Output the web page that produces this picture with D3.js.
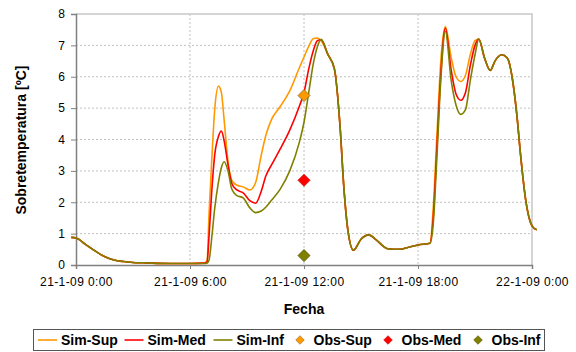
<!DOCTYPE html>
<html><head><meta charset="utf-8">
<script src="https://cdn.jsdelivr.net/npm/d3@7"></script>
<style>
body{margin:0;background:#fff;}
svg{display:block;font-family:"Liberation Sans",Arial,sans-serif;}
</style></head><body>
<svg id="c" width="576" height="352"></svg>
<script>
// ---- data (hours since 21-1-09 0:00) ----
const hours = [-0.25,0,0.5,1,1.5,2,2.5,3,3.5,4,5,6,6.75,6.9,7.0,7.15,7.3,7.5,7.65,7.8,8.0,8.2,8.45,8.8,9.15,9.45,9.75,10.0,10.3,10.75,11.25,11.75,12.0,12.25,12.5,12.7,12.9,13.25,13.6,13.9,14.1,14.3,14.6,15.0,15.4,15.8,16.4,17.0,17.6,18.0,18.63,18.8,19.0,19.2,19.44,19.75,20.0,20.25,20.5,20.75,21.0,21.2,21.5,21.8,22.05,22.4,22.7,22.95,23.2,23.4,23.65,23.85,24.0,24.25];
const simSup = [0.88,0.86,0.66,0.45,0.27,0.16,0.11,0.08,0.07,0.06,0.05,0.05,0.06,0.15,1.6,3.4,4.95,5.7,5.5,4.6,3.3,2.7,2.55,2.49,2.39,2.62,3.5,4.15,4.65,5.05,5.55,6.28,6.63,6.97,7.22,7.23,7.15,6.72,6.25,4.4,2.45,1.15,0.47,0.82,0.96,0.8,0.52,0.5,0.58,0.64,0.69,1.8,4.2,6.5,7.6,6.6,6.0,5.85,6.05,6.7,7.15,7.2,6.6,6.2,6.5,6.7,6.6,6.0,4.8,3.5,2.15,1.5,1.25,1.12];
const simMed = [0.88,0.86,0.66,0.45,0.27,0.16,0.11,0.08,0.07,0.06,0.05,0.05,0.06,0.1,0.9,2.4,3.5,4.1,4.27,3.95,3.2,2.6,2.4,2.3,2.05,1.97,2.35,2.85,3.2,3.7,4.3,5.05,5.5,6.25,6.85,7.15,7.18,6.72,6.25,4.4,2.45,1.15,0.47,0.82,0.96,0.8,0.52,0.5,0.58,0.64,0.69,1.5,3.8,6.1,7.55,6.2,5.45,5.25,5.5,6.35,7.0,7.2,6.6,6.2,6.5,6.7,6.6,6.0,4.8,3.5,2.15,1.5,1.25,1.12];
const simInf = [0.88,0.86,0.66,0.45,0.27,0.16,0.11,0.08,0.07,0.06,0.05,0.05,0.05,0.06,0.15,0.9,1.8,2.65,3.1,3.29,3.0,2.42,2.22,2.14,1.82,1.67,1.72,1.85,2.07,2.42,3.0,3.9,4.55,5.5,6.45,6.95,7.19,6.72,6.25,4.4,2.45,1.15,0.47,0.82,0.96,0.8,0.52,0.5,0.58,0.64,0.69,1.3,3.5,5.9,7.45,5.87,5.1,4.8,4.95,5.87,6.7,7.2,6.6,6.2,6.5,6.7,6.6,6.0,4.8,3.5,2.15,1.5,1.25,1.12];
const obsHour = [12, 12, 12];
const obsValue = [5.4, 2.7, 0.3];
const obsNames = ["Obs-Sup","Obs-Med","Obs-Inf"];
const simNames = ["Sim-Sup","Sim-Med","Sim-Inf"];
const xTickHours = [0,6,12,18,24];
const xTickLabels = ["21-1-09 0:00","21-1-09 6:00","21-1-09 12:00","21-1-09 18:00","22-1-09 0:00"];
const yTicks = [0,1,2,3,4,5,6,7,8];
const colors = ["#FF9900","#FF0000","#808000"];
const obsStroke = ["#8a6a2a","#cc0000","#4d4d00"];

// ---- layout ----
const svg = d3.select("#c");
const L = 76, R = 532, T = 14, B = 265;
const x = d3.scaleLinear().domain([0,24]).range([L,R]);
const y = d3.scaleLinear().domain([0,8]).range([B,T]);

// grid
const g = svg.append("g");
g.selectAll("line.h").data(yTicks.filter(v=>v>0&&v<8)).enter().append("line")
 .attr("x1",L).attr("x2",R).attr("y1",d=>y(d)).attr("y2",d=>y(d))
 .attr("stroke","#c0c0c0").attr("stroke-dasharray","2,2").attr("stroke-width",1);
g.selectAll("line.v").data(xTickHours.filter(h=>h>0&&h<24)).enter().append("line")
 .attr("x1",d=>x(d)).attr("x2",d=>x(d)).attr("y1",T).attr("y2",B)
 .attr("stroke","#c0c0c0").attr("stroke-dasharray","2,2").attr("stroke-width",1);
// plot border (top/right)
svg.append("path").attr("d",`M${L},${T}H${R}V${B}`).attr("fill","none")
 .attr("stroke","#c8c8c8").attr("stroke-width",1.5);

// axes
const yAxis = d3.axisLeft(y).tickValues(yTicks).tickSize(5).tickPadding(6);
const ya = svg.append("g").attr("transform",`translate(${L},0)`).call(yAxis);
const xAxis = d3.axisBottom(x).tickValues(xTickHours).tickSize(4).tickPadding(8)
  .tickFormat((d,i)=>xTickLabels[i]);
const xa = svg.append("g").attr("transform",`translate(0,${B})`).call(xAxis);
[ya,xa].forEach(a=>{
  a.select(".domain").attr("stroke","#808080").attr("stroke-width",1.5);
  a.selectAll(".tick line").attr("stroke","#808080");
  a.selectAll("text").attr("font-size",12).attr("fill","#000")
   .attr("font-family","Liberation Sans, Arial, sans-serif");
});
xa.selectAll("text").attr("letter-spacing","0.4px");

// lines
const line = d3.line().x((d,i)=>x(hours[i])).y(d=>y(d)).curve(d3.curveMonotoneX);
[simSup,simMed,simInf].forEach((s,i)=>{
  svg.append("path").datum(s).attr("d",line).attr("fill","none")
   .attr("stroke",colors[i]).attr("stroke-width",1.6).attr("stroke-linejoin","round");
});

// observations
const diamond = r => `M0,${-r}L${r},0L0,${r}L${-r},0Z`;
svg.selectAll("path.obs").data(obsValue).enter().append("path")
 .attr("d",diamond(6))
 .attr("transform",(d,i)=>`translate(${x(obsHour[i])},${y(d)})`)
 .attr("fill",(d,i)=>colors[i]).attr("stroke",(d,i)=>obsStroke[i]).attr("stroke-width",0.8);

// axis titles
svg.append("text").attr("x",304).attr("y",309).attr("text-anchor","middle")
 .attr("dominant-baseline","central").attr("font-size",14).attr("font-weight","bold").text("Fecha");
svg.append("text").attr("transform","translate(21,140) rotate(-90)").attr("text-anchor","middle")
 .attr("dominant-baseline","central").attr("font-size",14).attr("font-weight","bold").text("Sobretemperatura [ºC]");

// legend
svg.append("rect").attr("x",33.5).attr("y",329.5).attr("width",511).attr("height",21)
 .attr("fill","#fff").attr("stroke","#555").attr("stroke-width",1);
const legX = [61,147.5,236.5,313.5,401.5,491.5];
const ly = 340;
simNames.forEach((n,i)=>{
  svg.append("line").attr("x1",legX[i]-23).attr("x2",legX[i]-4).attr("y1",ly).attr("y2",ly)
   .attr("stroke",colors[i]).attr("stroke-width",1.6);
  svg.append("text").attr("x",legX[i]).attr("y",ly).attr("dominant-baseline","central")
   .attr("font-size",14).attr("font-weight","bold").text(n);
});
obsNames.forEach((n,i)=>{
  const xi = legX[i+3];
  svg.append("path").attr("d",diamond(4.3)).attr("transform",`translate(${xi-13.5},${ly})`)
   .attr("fill",colors[i]).attr("stroke",obsStroke[i]).attr("stroke-width",0.6);
  svg.append("text").attr("x",xi).attr("y",ly).attr("dominant-baseline","central")
   .attr("font-size",14).attr("font-weight","bold").text(n);
});
</script>
</body></html>
